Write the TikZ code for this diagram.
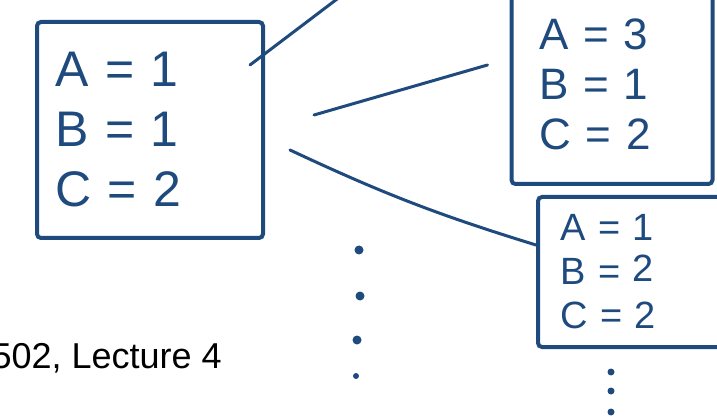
\documentclass[tikz,border=0pt]{standalone}
\usepackage{fontspec}
\setmainfont{Liberation Sans}
\usepackage{xcolor}
\usetikzlibrary{positioning,calc}
\definecolor{sketchblue}{RGB}{31,74,126}

\begin{document}
\begin{tikzpicture}[
    x=1pt, y=1pt,
    state/.style={
        rectangle, draw=sketchblue, line width=4pt,
        rounded corners=4pt, align=left,
        text=sketchblue, inner ysep=0pt
    },
    link/.style={draw=sketchblue, line width=3pt, line cap=round},
    dot/.style={circle, fill=sketchblue, inner sep=0pt, minimum size=9pt}
]

    \useasboundingbox (0,0) rectangle (717,418);
    \clip (0,0) rectangle (717,418);

    % States
    \node [state, text width=190pt, inner xsep=18pt, minimum height=216pt,
           font=\fontsize{50}{60}\selectfont] (root) at (150,288)
          {A = 1\\B = 1\\C = 2};
    \node [state, text width=145pt, inner xsep=28pt, minimum height=200pt,
           font=\fontsize{44}{50}\selectfont] (upper) at (612,334)
          {A = 3\\B = 1\\C = 2};
    \node [state, text width=148pt, inner xsep=22pt, minimum height=150pt,
           font=\fontsize{38}{44}\selectfont] (lower) at (634,146)
          {A = 1\\B = \raisebox{3pt}{2}\\C = 2};

    % Caption
    \node [anchor=base east, inner sep=0pt, font=\fontsize{36}{43}\selectfont]
          (caption) at (222,50) {502, Lecture 4};

    % Dots
    \node [dot] (d1) at (359,168) {};
    \node [dot] (d2) at (360,122) {};
    \node [dot] (d3) at (357,78) {};
    \node [dot, minimum size=6pt] (d4) at (356,42) {};
    \node [dot, minimum size=7pt] (e1) at (611,46) {};
    \node [dot, minimum size=7pt] (e2) at (611,27) {};
    \node [dot, minimum size=7pt] (e3) at (611,6) {};

    % Branches
    \coordinate (rootout) at ($(root.north east)+(-15,-45)$);
    \coordinate (topend) at (345,425);
    \coordinate (midfrom) at ($(root.east)+(49,15)$);
    \coordinate (midto) at ($(upper.west)+(-22,19)$);
    \coordinate (curvefrom) at ($(root.east)+(25,-20)$);
    \coordinate (curveto) at ($(lower.west)+(0,27)$);

    \draw [link] (rootout) -- (topend);
    \draw [link] (midfrom) -- (midto);
    \draw [link] (curvefrom) to [bend right=4] (curveto);

\end{tikzpicture}
\end{document}
